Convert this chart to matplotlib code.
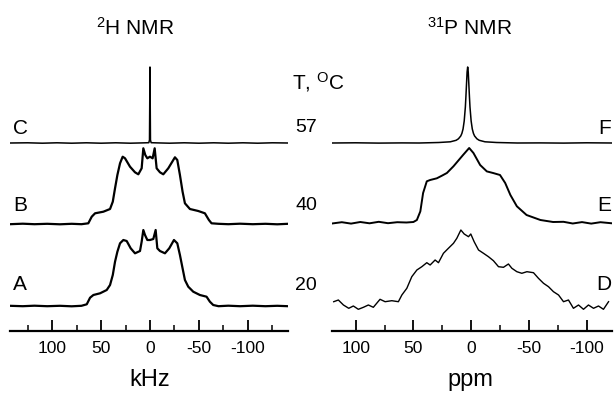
import matplotlib
matplotlib.use("Agg")
import matplotlib.pyplot as plt
from matplotlib.ticker import MultipleLocator

plt.rcParams['font.family'] = ['Liberation Sans', 'DejaVu Sans']
plt.rcParams['mathtext.default'] = 'regular'
plt.rcParams['axes.unicode_minus'] = False

# 2H NMR spectra (kHz, intensity)
c_khz = [143, 125, 110, 95, 80, 65, 50, 35, 20, 8, 1.2, 0.5, 0, -0.5, -1.2, -8, -20, -35, -50, -65, -80, -95, -110, -125, -141]
c_int = [0, 0.2, -0.2, 0.2, -0.2, 0.2, -0.2, 0.2, -0.2, 0.1, 0.3, 3, 76, 3, 0.3, 0.1, -0.2, 0.2, -0.2, 0.2, -0.2, 0.2, -0.2, 0.2, 0]

b_khz = [143, 130, 118, 105, 92, 80, 70, 63, 59.5, 56.1, 47.6, 40.8, 38, 35.7, 33.3, 30.6, 27.9,
         25.5, 20.4, 15.3, 11.9, 8.5, 6.8, 4.8, 2.7, 0, -2.7, -4.8, -6.8, -10.2, -13.6, -18.7, -25.5,
         -27.9, -30.6, -33.3, -35.7, -40.8, -49.3, -56.1, -60.2, -62.9, -70, -80, -92, -105, -118, -130, -141]
b_int = [-0.2, 0.3, -0.2, 0.2, -0.3, 0.2, -0.2, 0.7, 7.3, 10.7, 12.3, 15, 22.3, 35.7, 49, 60.7, 67.3,
         65.7, 57.3, 51.7, 49.7, 55.7, 75.7, 69, 65.7, 67.3, 65.7, 75.7, 55.7, 51.7, 49.7, 55.7, 66.7,
         64, 49, 32.3, 20.7, 15, 13, 10.7, 4, 0.7, 0.2, -0.2, 0.3, -0.2, 0.2, -0.3, 0.2]

a_khz = [143, 130, 118, 105, 92, 80, 70, 64.6, 61.2, 57.8, 51, 44.2, 40.8, 38, 35.7, 33.3, 30.6,
         27.2, 23.8, 19.7, 15.3, 10.2, 8.5, 6.8, 5.1, 2.7, 0, -3.4, -5.8, -7.5, -10.2, -15.3, -19.7,
         -24.5, -27.9, -30.6, -33.3, -35.7, -39.1, -44.2, -51, -57.8, -61.2, -64.6, -70, -80, -92,
         -105, -118, -130, -141]
a_int = [0.2, -0.2, 0.3, -0.2, 0.2, -0.3, 0.2, 1.7, 8.3, 11, 12.7, 16, 21, 31, 44.3, 54.3, 62.7,
         66, 65, 57.7, 52.7, 55, 64.3, 76, 71, 66, 66, 67, 76, 57.7, 55, 52.7, 57.7,
         66, 62.7, 51, 37.7, 26, 19.3, 14.3, 11, 9.3, 4.3, 1, -0.2, 0.3, -0.2,
         0.3, -0.2, 0.2, -0.2]

# 31P NMR spectra (ppm, intensity)
f_ppm = [120.5, 100, 80, 60, 45, 28, 18, 13, 11, 9, 8, 7, 6, 5, 4.5, 4, 3.5, 3, 2.5, 2,
         1.5, 1, 0, -1, -2, -3, -5, -7, -12, -22, -40, -60, -80, -100, -122]
f_int = [0, 0.2, -0.1, 0.1, 0, 0.5, 1.2, 2.7, 4.2, 7, 9.6, 14, 22, 36, 47, 59, 71, 76, 71, 59,
         47, 36, 22, 14, 9.6, 7, 4.2, 2.7, 1.2, 0.5, 0, 0.1, -0.1, 0.2, 0]

e_ppm = [120.5, 112, 104, 96, 88, 80, 72, 64, 56, 50, 47, 44, 41.6, 38.4, 35.5, 29.7, 25, 21, 15.3,
         7, 1.7, -2, -7.8, -13.6, -19, -25, -29.5, -34, -39.6, -48, -60, -71, -80, -88, -96, -104, -112, -122]
e_int = [-0.5, 0.8, -0.6, 1, -0.3, 1.2, -0.2, 0.8, 0.5, 1, 3, 11.6, 30, 41.7, 43, 44.7, 47.5, 50, 56.7,
         68, 75, 70, 58, 51.6, 50, 48, 40, 28, 16.7, 8, 3, 1, 1.2, -0.5, 0.9, -0.6, 0.8, -0.3]

d_ppm = [119, 115, 110.6, 106, 102, 97.7, 93.3, 89, 84.7, 78.9, 74.5, 68.7, 63, 60, 55.7, 51.4, 47,
         42.7, 38.4, 35.5, 31.2, 28.3, 24, 19.7, 15.3, 12.4, 8.9, 6, 2.3, 0.3, -2.6, -6.4, -10.7,
         -15, -19.3, -23.7, -28, -32.3, -35.3, -39.6, -43.9, -48.3, -54, -58.3, -62.7, -67, -71.3,
         -75.7, -80, -84.3, -88.6, -93, -97.3, -101.6, -106, -110.3, -114.6, -119]
d_int = [9.3, 11, 6, 2.7, 5, 1.7, 3.7, 6, 3.7, 11.7, 9.3, 10.3, 9.3, 16, 22.7, 34.3, 41,
         44.3, 48.3, 46, 51, 48.3, 57.7, 62.7, 67.7, 72.7, 81, 77, 74.3, 77, 69.3, 61, 57.7,
         54.3, 50.3, 44.3, 43.7, 47, 42.7, 39.3, 37.7, 39.3, 38.3, 32.7, 27.7, 24.3, 19.3,
         16, 9.3, 11, 2.7, 6, 1.7, 6, 2.7, 5, 1.7, 9.3]

temps = ['57', '40', '20']
left_labels = ['C', 'B', 'A']
right_labels = ['F', 'E', 'D']
ticks = [100, 50, 0, -50, -100]

W, H = 614, 393

fig = plt.figure(figsize=(W / 100, H / 100), dpi=100)


def px(x, y):
    return x / W, 1 - y / H


def setup(ax, xlim):
    ax.set_xlim(*xlim)
    ax.set_ylim(0, 271)
    for s in ['top', 'left', 'right']:
        ax.spines[s].set_visible(False)
    ax.spines['bottom'].set_linewidth(1.6)
    ax.set_yticks([])
    ax.set_xticks(ticks)
    ax.xaxis.set_minor_locator(MultipleLocator(25))
    ax.tick_params(axis='x', which='major', direction='in', length=8, width=1.3,
                   labelsize=12.5, pad=7)
    ax.tick_params(axis='x', which='minor', direction='in', length=4, width=1.1)
    ax.patch.set_visible(False)


ax1 = fig.add_axes([10 / W, 62 / H, 278 / W, 271 / H])
setup(ax1, (143, -141))
ax1.plot(c_khz, [v + 188 for v in c_int], color='black', lw=1.1)
ax1.plot(b_khz, [v + 107 for v in b_int], color='black', lw=1.6)
ax1.plot(a_khz, [v + 25 for v in a_int], color='black', lw=1.6)

ax2 = fig.add_axes([332 / W, 62 / H, 280 / W, 271 / H])
setup(ax2, (120.5, -122))
ax2.plot(f_ppm, [v + 188 for v in f_int], color='black', lw=1.1)
ax2.plot(e_ppm, [v + 108 for v in e_int], color='black', lw=1.4)
ax2.plot(d_ppm, [v + 20 for v in d_int], color='black', lw=1.0)

fig.text(*px(135, 28), '$^{2}$H NMR', fontsize=15, ha='center', va='center')
fig.text(*px(470, 28), '$^{31}$P NMR', fontsize=15, ha='center', va='center')
fig.text(*px(150, 380), 'kHz', fontsize=17, ha='center', va='center')
fig.text(*px(470, 380), 'ppm', fontsize=17, ha='center', va='center')
fig.text(*px(318, 82), 'T, $^{O}$C', fontsize=15, ha='center', va='center')

for lab, t, r, y in zip(left_labels, temps, right_labels, [128, 205, 285]):
    fig.text(*px(20, y), lab, fontsize=15, ha='center', va='center')
    fig.text(*px(306, y), t, fontsize=14, ha='center', va='center')
    fig.text(*px(611, y), r, fontsize=15, ha='right', va='center')

fig.savefig('out.png', dpi=100)
